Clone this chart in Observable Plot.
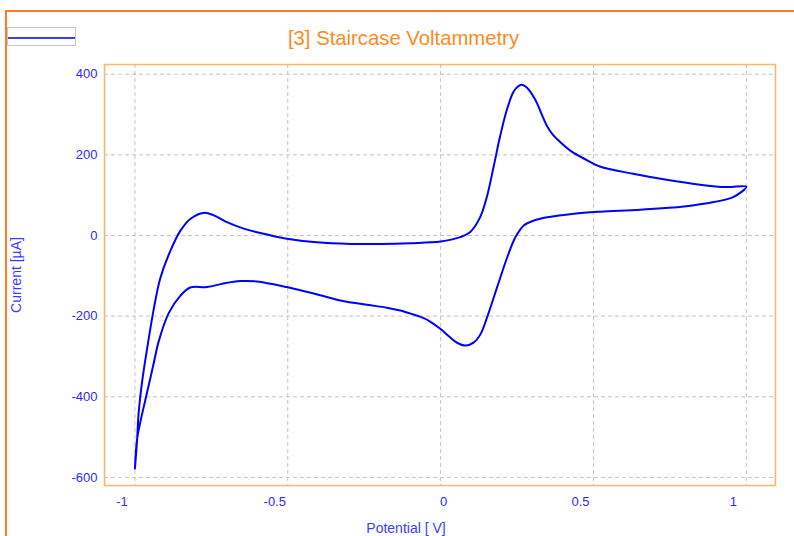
<!DOCTYPE html>
<html>
<head>
<meta charset="utf-8">
<script src="https://cdn.jsdelivr.net/npm/d3@7"></script>
<script src="https://cdn.jsdelivr.net/npm/@observablehq/plot@0.6"></script>
<style>
  html, body { margin: 0; padding: 0; background: #fff; }
  #wrap { position: relative; width: 794px; height: 536px; overflow: hidden; font-family: "Liberation Sans", Arial, sans-serif; }
  #wrap svg { position: absolute; left: 0; top: 0; }
  .outer-top { position: absolute; left: 5px; top: 10px; width: 789px; height: 2px; background: #ff7b24; }
  .outer-left { position: absolute; left: 5px; top: 10px; width: 2px; height: 526px; background: #ff7b24; }
  .legend { position: absolute; left: 7px; top: 27px; width: 69px; height: 19px; border: 1px solid #c8c8c8; box-sizing: border-box; background: #fff; }
  .legend-line { position: absolute; left: 0; right: 0; top: 9px; height: 2px; background: #3c3cf0; }
  .title { position: absolute; left: 0; width: 807px; top: 27.5px; line-height: 20px; text-align: center; font-size: 20.3px; color: #ff8a1c; white-space: nowrap; }
</style>
</head>
<body>
<div id="wrap"></div>
<script>
// Cyclic voltammogram: potential (V) and current (µA), in scan order
const potential = [
  -1.000, -0.993, -0.988, -0.976, -0.960, -0.939, -0.917, -0.884, -0.851, -0.819,
  -0.775, -0.742, -0.699, -0.644, -0.590, -0.503, -0.405, -0.296, -0.198, -0.100,
   0.000,  0.064,  0.096,  0.129,  0.151,  0.173,  0.194,  0.216,  0.238,  0.252,
   0.265,  0.279,  0.292,  0.305,  0.316,  0.332,  0.349,  0.365,  0.381,  0.423,
   0.478,  0.521,  0.630,  0.739,  0.848,  0.935,  1.000,
   0.957,  0.894,  0.796,  0.654,  0.523,  0.436,  0.349,  0.305,  0.272,  0.245,
   0.218,  0.185,  0.152,  0.131,  0.109,  0.081,  0.054,  0.030,  0.000, -0.033,
  -0.055, -0.089, -0.132, -0.176, -0.241, -0.328, -0.394, -0.459, -0.503, -0.601,
  -0.655, -0.710, -0.764, -0.819, -0.851, -0.889, -0.922, -0.938, -0.952, -0.966,
  -0.982, -0.993, -1.000
];
const current = [
  -578, -509, -442, -360, -280, -185, -106,  -38,   12,   41,
    56,   50,   33,   17,    6,   -8,  -17,  -21,  -21,  -19,
   -15,   -4,    8,   45,   95,  169,  244,  310,  356,  369,
   374,  369,  358,  343,  327,  298,  270,  252,  239,  211,
   187,  171,  153,  138,  126,  120,  121,
    95,   83,   72,   64,   59,   54,   45,   37,   25,   -4,
   -54, -128, -203, -244, -265, -273, -266, -252, -232, -214,
  -205, -196, -186, -179, -172, -161, -148, -136, -128, -114,
  -113, -119, -128, -129, -149, -192, -262, -315, -362, -408,
  -462, -505, -578
];
const xTicks = [-1, -0.5, 0, 0.5, 1];
const yTicks = [-600, -400, -200, 0, 200, 400];
const titleText = "[3] Staircase Voltammetry";
const xLabel = "Potential [ V]";
const yLabel = "Current [µA]";

const blue = "#0000ff";
const tickBlue = "#2b2bff";
const labelBlue = "#3c3cff";
const fmt = d => String(d);

const chart = Plot.plot({
  width: 794,
  height: 536,
  marginLeft: 104,
  marginRight: 19,
  marginTop: 64,
  marginBottom: 51,
  style: { fontFamily: "'Liberation Sans', Arial, sans-serif", background: "transparent", overflow: "hidden" },
  x: { domain: [-1.0995, 1.0955] },
  y: { domain: [-620, 424] },
  marks: [
    Plot.gridX(xTicks, { stroke: "#c4c4c4", strokeOpacity: 1, strokeDasharray: "4,3" }),
    Plot.gridY(yTicks, { stroke: "#c4c4c4", strokeOpacity: 1, strokeDasharray: "4,3" }),
    Plot.frame({ stroke: "#ffb565", strokeWidth: 1.5 }),
    Plot.axisY(yTicks, { tickSize: 0, tickPadding: 7, tickFormat: fmt, fontSize: 13, fill: tickBlue, label: null }),
    Plot.axisX(xTicks.filter(d => d !== 0), { tickSize: 0, tickPadding: 11, tickFormat: fmt, fontSize: 13, fill: tickBlue, dx: -13, label: null }),
    Plot.axisX(xTicks.filter(d => d === 0), { tickSize: 0, tickPadding: 11, tickFormat: fmt, fontSize: 13, fill: tickBlue, dx: 3, label: null }),
    Plot.text([xLabel], { frameAnchor: "bottom", lineAnchor: "top", dy: 38, dx: -34, fontSize: 14, fill: labelBlue, text: d => d }),
    Plot.text([yLabel], { frameAnchor: "left", textAnchor: "middle", lineAnchor: "top", rotate: -90, dx: -93, dy: 0, fontSize: 14, fill: labelBlue, text: d => d }),
    Plot.line(potential, { x: potential, y: current, stroke: blue, strokeWidth: 2, curve: "catmull-rom" })
  ]
});

const wrap = document.getElementById("wrap");
wrap.appendChild(chart);

const deco = document.createElement("div");
deco.innerHTML = `<div class="outer-top"></div><div class="outer-left"></div>
  <div class="legend"><div class="legend-line"></div></div>
  <div class="title">${titleText}</div>`;
while (deco.firstChild) wrap.appendChild(deco.firstChild);
</script>
</body>
</html>
